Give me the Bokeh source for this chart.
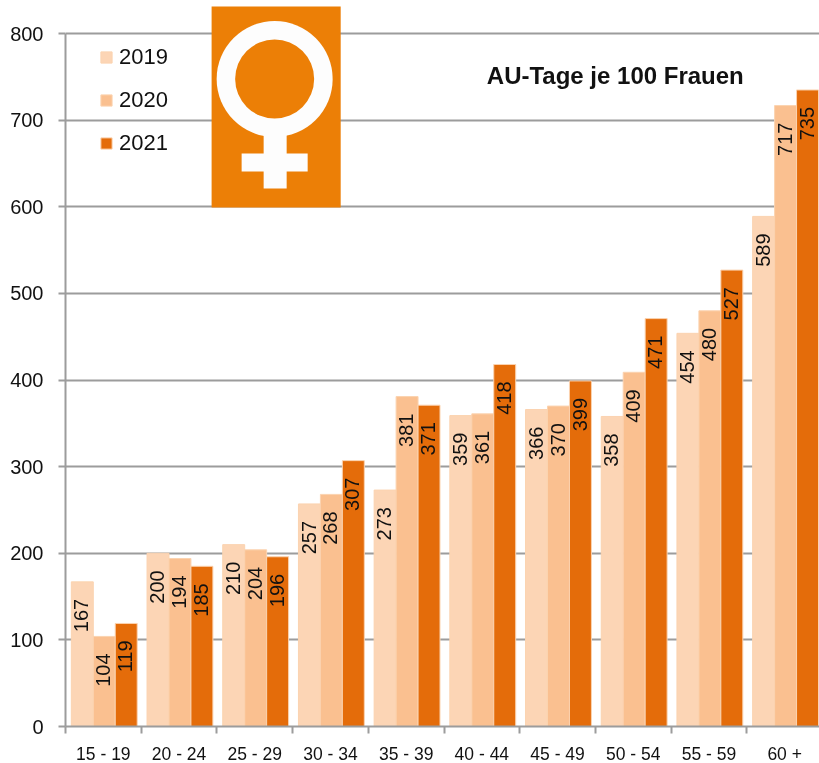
from bokeh.plotting import figure
from bokeh.embed import file_html
from bokeh.resources import INLINE
from bokeh.models import FixedTicker, Legend, LegendItem, Range1d, Label
from bokeh.core.properties import value

categories = ["15 - 19", "20 - 24", "25 - 29", "30 - 34", "35 - 39",
              "40 - 44", "45 - 49", "50 - 54", "55 - 59", "60 +"]
v2019 = [167, 200, 210, 257, 273, 359, 366, 358, 454, 589]
v2020 = [104, 194, 204, 268, 381, 361, 370, 409, 480, 717]
v2021 = [119, 185, 196, 307, 371, 418, 399, 471, 527, 735]
years = ["2019", "2020", "2021"]
colors = ["#FCD5B5", "#FAC090", "#E46C0A"]
series = [v2019, v2020, v2021]
yticks = [0, 100, 200, 300, 400, 500, 600, 700, 800]

FONT = "Liberation Sans"
GREY = "#9C9C9C"
BW = 0.29
SHIFT = 0.012

p = figure(width=819, height=766, output_backend="svg", toolbar_location=None,
           x_range=Range1d(0, 9.96), y_range=Range1d(0, 838.3),
           min_border_left=65, min_border_right=0, min_border_top=0, min_border_bottom=40)
p.styles = {"position": "fixed", "left": "0px", "top": "0px"}
p.outline_line_color = None
p.background_fill_color = "white"
p.xgrid.visible = False
p.ygrid.ticker = FixedTicker(ticks=yticks)
p.ygrid.grid_line_color = GREY
p.ygrid.grid_line_width = 2

ax = p.yaxis[0]
ax.ticker = FixedTicker(ticks=yticks)
ax.bounds = (0, 800)
ax.axis_line_color = GREY
ax.axis_line_width = 2
ax.major_tick_line_color = GREY
ax.major_tick_line_width = 2
ax.major_tick_in = 0
ax.major_tick_out = 7
ax.minor_tick_line_color = None
ax.major_label_text_font = FONT
ax.major_label_text_font_size = "20px"
ax.major_label_text_color = "#111111"
ax.major_label_standoff = 15

xa = p.xaxis[0]
centers = [i + 0.5 for i in range(len(categories))]
xa.ticker = FixedTicker(ticks=centers, minor_ticks=list(range(len(categories) + 1)))
xa.major_label_overrides = {c: t for c, t in zip(centers, categories)}
xa.axis_line_color = GREY
xa.axis_line_width = 2
xa.major_tick_line_color = None
xa.minor_tick_line_color = GREY
xa.minor_tick_line_width = 2
xa.minor_tick_in = 0
xa.minor_tick_out = 7
xa.major_tick_in = 0
xa.major_tick_out = 7
xa.major_label_text_font = FONT
xa.major_label_text_font_size = "17.5px"
xa.major_label_text_color = "#111111"
xa.major_label_standoff = 10

items = []
for k, (yr, col, vals) in enumerate(zip(years, colors, series)):
    xs = [c + (k - 1) * BW for c in centers]
    r = p.vbar(x=[x + SHIFT for x in xs], top=vals, bottom=0, width=BW, fill_color=col,
               line_color="#FBD3B0", line_width=1)
    items.append(LegendItem(label=yr, renderers=[r]))
    p.text(x=xs, y=vals, text=[str(v) for v in vals], angle=90, angle_units="deg",
           text_align="right", text_baseline="middle", y_offset=17,
           text_font=value(FONT), text_font_size="20px", text_color="#111111")

# logo (decoration), positions in data units
PX_X = 75.65
PX_Y = 0.866
def dx(px): return (px - 65) / PX_X
def dy(py): return (726 - py) / PX_Y
LOGO = "#EC7F06"
WHITE = "#FDFDFD"
p.quad(left=[dx(211)], right=[dx(340)], top=[dy(6)], bottom=[dy(207)], fill_color=LOGO, line_color=None)
p.quad(left=[dx(263)], right=[dx(286)], top=[dy(130)], bottom=[dy(188)], fill_color=WHITE, line_color=None)
p.quad(left=[dx(241)], right=[dx(307)], top=[dy(171)], bottom=[dy(153)], fill_color=WHITE, line_color=None)
p.scatter(x=[dx(274)], y=[dy(78.5)], size=116, marker="circle", fill_color=WHITE, line_color=None)
p.scatter(x=[dx(274)], y=[dy(78.5)], size=79, marker="circle", fill_color=LOGO, line_color=None)

legend = Legend(items=items, location=(34, 570), orientation="vertical",
                background_fill_alpha=0, border_line_color=None,
                glyph_width=14, glyph_height=14, label_standoff=6, spacing=17,
                label_text_font=FONT, label_text_font_size="22px", label_text_color="#111111",
                margin=0, padding=0)
p.add_layout(legend)

p.add_layout(Label(x=dx(486), y=dy(75), text="AU-Tage je 100 Frauen", text_font=FONT,
                   text_font_size="24px", text_font_style="bold", text_color="#111111",
                   text_baseline="middle"))

open("out.html", "w").write(file_html(p, INLINE))
